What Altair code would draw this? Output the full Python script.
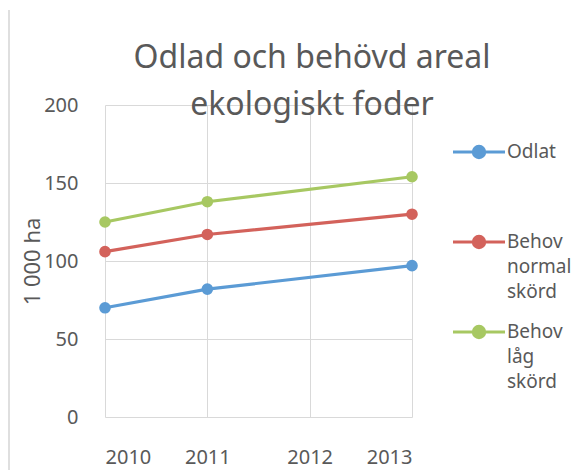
import altair as alt
import pandas as pd

years = [2010, 2011, 2013]
odlat = [70, 82, 97]
behov_normal = [106, 117, 130]
behov_lag = [125, 138, 154]
series_names = ["Odlat", "Behov normal skörd", "Behov låg skörd"]
series_colors = ["#5B9BD5", "#D3625B", "#A7C862"]
x_ticks = [2010, 2011, 2012, 2013]
y_ticks = [0, 50, 100, 150, 200]
title_lines = ["Odlad och behövd areal", "ekologiskt foder"]

rows = []
for name, vals in zip(series_names, [odlat, behov_normal, behov_lag]):
    for yr, v in zip(years, vals):
        rows.append({"year": yr, "value": v, "series": name})
df = pd.DataFrame(rows)

FONT = "Noto Sans"
GREY = "#595959"

# custom legend symbol: line with filled dot (dot drawn as concentric rings)
sym = ("M-2.5,0L2.5,0"
       "M0.55,0A0.55,0.55 0 1,1 -0.55,0A0.55,0.55 0 1,1 0.55,0"
       "M0.3,0A0.3,0.3 0 1,1 -0.3,0A0.3,0.3 0 1,1 0.3,0"
       "M0.1,0A0.1,0.1 0 1,1 -0.1,0A0.1,0.1 0 1,1 0.1,0")

color = alt.Color(
    "series:N",
    scale=alt.Scale(domain=series_names, range=series_colors),
    sort=series_names,
    legend=alt.Legend(
        title=None,
        orient="none",
        legendX=362,
        legendY=35,
        symbolType=sym,
        symbolSize=433,
        symbolStrokeWidth=3,
        labelFont=FONT,
        labelFontSize=19,
        labelColor=GREY,
        labelLimit=0,
        labelOffset=16,
        labelExpr="datum.label == 'Odlat' ? ['Odlat', '', ''] : split(datum.label, ' ')",
        rowPadding=18,
    ),
)

x = alt.X(
    "year:Q",
    scale=alt.Scale(domain=[2010, 2013], nice=False, zero=False),
    axis=alt.Axis(
        values=x_ticks, format="d", title=None, grid=True, gridColor="#D9D9D9",
        domain=False, ticks=False, labelFont=FONT, labelFontSize=20,
        labelColor=GREY, labelPadding=30,
    ),
)
y = alt.Y(
    "value:Q",
    scale=alt.Scale(domain=[0, 200], nice=False),
    axis=alt.Axis(
        values=y_ticks, title="1 000 ha", grid=True, gridColor="#D9D9D9",
        domain=False, ticks=False, labelFont=FONT, labelFontSize=20,
        labelColor=GREY, labelPadding=27, titleFont=FONT, titleFontSize=22,
        titleColor=GREY, titleFontWeight="normal", titleAngle=-90,
        titleX=-73, titleY=156, titleAlign="center", titleBaseline="middle",
    ),
)

lines = alt.Chart(df).mark_line(strokeWidth=3.2).encode(
    x=x, y=y, color=color
)
points = alt.Chart(df).mark_point(filled=True, size=135, opacity=1).encode(
    x=x, y=y, color=color
)

one = pd.DataFrame({"a": [0]})
border = alt.Chart(one).mark_rule(color="#BFBFBF", strokeWidth=1).encode(
    x=alt.value(-96), y=alt.value(-95), y2=alt.value(365)
)
title1 = alt.Chart(one).mark_text(
    text=title_lines[0], font=FONT, fontSize=32, color=GREY,
    align="center", baseline="alphabetic",
).encode(x=alt.value(207), y=alt.value(-37))
title2 = alt.Chart(one).mark_text(
    text=title_lines[1], font=FONT, fontSize=32, color=GREY,
    align="center", baseline="alphabetic",
).encode(x=alt.value(207), y=alt.value(10))

chart = alt.layer(border, lines, points, title1, title2).properties(
    width=307,
    height=312,
    padding={"left": 97, "top": 97, "right": 163, "bottom": 53},
    autosize=alt.AutoSizeParams(type="none"),
    config=alt.Config(
        view=alt.ViewConfig(stroke=None),
        style={"guide-label": {"lineHeight": 25}},
    ),
)

chart.save("out.html", embed_options={"renderer": "svg", "actions": False})
